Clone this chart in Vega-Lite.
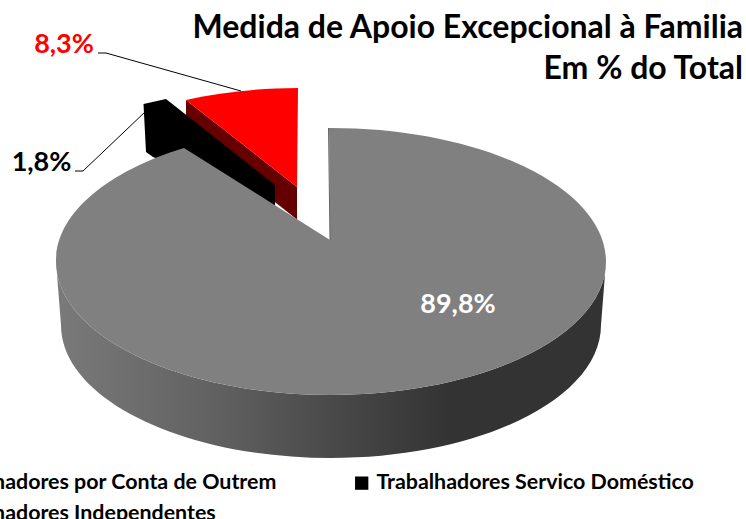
{
"$schema":"https://vega.github.io/schema/vega-lite/v6.json",
"width":746,"height":519,"autosize":"none","padding":0,"background":"white",
"config":{"view":{"stroke":null},"font":"Lato"},
"title":{"text":["Medida de Apoio Excepcional à Familia","Em % do Total"],"anchor":"end","align":"right","frame":"group","orient":"top","offset":-86,"dx":-3,"font":"Lato","fontSize":32,"fontWeight":"bold","color":"#000000","lineHeight":41},
"data":{"values":[
{"categoria":"Trabalhadores Independentes","valor":8.3,"rotulo":"8,3%"},
{"categoria":"Trabalhadores Servico Doméstico","valor":1.8,"rotulo":"1,8%"},
{"categoria":"Trabalhadores por Conta de Outrem","valor":89.8,"rotulo":"89,8%"}
]},
"encoding":{"color":{"field":"categoria","type":"nominal","scale":{"domain":["Trabalhadores por Conta de Outrem","Trabalhadores Servico Doméstico","Trabalhadores Independentes"],"range":["#808080","#000000","#ff0000"]},
   "legend":{"orient":"none","legendX":-90,"legendY":472,"direction":"horizontal","columns":2,"title":null,"symbolType":"square","symbolSize":177,"symbolStrokeWidth":0,"labelFont":"Lato","labelFontWeight":"bold","labelFontSize":21.4,"labelColor":"#000000","labelLimit":500,"labelOffset":4,"columnPadding":74,"rowPadding":8}}},
"layer":[
{"transform":[{"filter":"datum.valor==8.3"}],
 "mark":{"type":"point","filled":true,"opacity":1,"size":4,"shape":"M -187 -159.5 L -76 -72.5 L -76 -40 L -187 -128 Z"},
 "encoding":{"color":{"value":"#660000"}}},
{"transform":[{"filter":"datum.valor==89.8"}],
 "mark":{"type":"point","filled":true,"opacity":1,"size":4,"shape":"M -317 2 A 275 133.5 0 0 0 233 2 L 228 65.5 A 270 133 0 0 1 -312 65.5 Z",
  "fill":{"gradient":"linear","x1":0,"y1":0,"x2":1,"y2":0,"stops":[{"offset":0,"color":"#7a7a7a"},{"offset":0.3,"color":"#606060"},{"offset":0.55,"color":"#444444"},{"offset":0.72,"color":"#333333"},{"offset":1,"color":"#333333"}]}},
 "encoding":{"color":{"value":null}}},
{"transform":[{"filter":"datum.valor==8.3"}],
 "mark":{"type":"point","filled":true,"opacity":1,"size":4,"shape":"M -187 -159.5 A 275 133.5 0 0 1 -75 -171.5 L -76 -72.5 Z"}},
{"transform":[{"filter":"datum.valor==1.8"}],
 "mark":{"type":"point","filled":true,"opacity":1,"size":4,"shape":"M -229.5 -155.5 L -207 -160.5 L -98 -74.5 L -98 -53.5 L -173 -84.5 L -220 -102.5 L -227 -107.5 Z"}},
{"transform":[{"filter":"datum.valor==89.8"}],
 "mark":{"type":"point","filled":true,"opacity":1,"size":4,"shape":"M -44 -131.5 A 275 133.5 0 0 1 233 2 A 275 133.5 0 0 1 -317 2 A 275 133.5 0 0 1 -189 -111.5 L -43 -19.5 Z"}},
{"transform":[{"filter":"datum.valor==89.8"}],
 "mark":{"type":"point","filled":false,"opacity":1,"size":4,"strokeWidth":1,"shape":"M -44.5 -131.5 L -43 -19.5"},
 "encoding":{"color":{"value":"#666666"}}},
{"transform":[{"filter":"datum.valor==8.3"}],
 "mark":{"type":"point","filled":false,"opacity":1,"size":4,"strokeWidth":1,"shape":"M -275 -206.5 L -267 -206.5 L -132 -168.5"},
 "encoding":{"color":{"value":"#000000"}}},
{"transform":[{"filter":"datum.valor==1.8"}],
 "mark":{"type":"point","filled":false,"opacity":1,"size":4,"strokeWidth":1,"shape":"M -298 -88.5 L -290 -88.5 L -228 -147.5"},
 "encoding":{"color":{"value":"#000000"}}},
{"transform":[{"filter":"datum.valor==8.3"}],
 "mark":{"type":"text","font":"Lato","fontWeight":"bold","fontSize":27,"dx":-309,"dy":-214.5},
 "encoding":{"text":{"field":"rotulo"},"color":{"value":"#ff0000"}}},
{"transform":[{"filter":"datum.valor==1.8"}],
 "mark":{"type":"text","font":"Lato","fontWeight":"bold","fontSize":27,"dx":-331.5,"dy":-96.5},
 "encoding":{"text":{"field":"rotulo"},"color":{"value":"#000000"}}},
{"transform":[{"filter":"datum.valor==89.8"}],
 "mark":{"type":"text","font":"Lato","fontWeight":"bold","fontSize":27,"dx":85,"dy":45},
 "encoding":{"text":{"field":"rotulo"},"color":{"value":"#ffffff"}}}
]
}
